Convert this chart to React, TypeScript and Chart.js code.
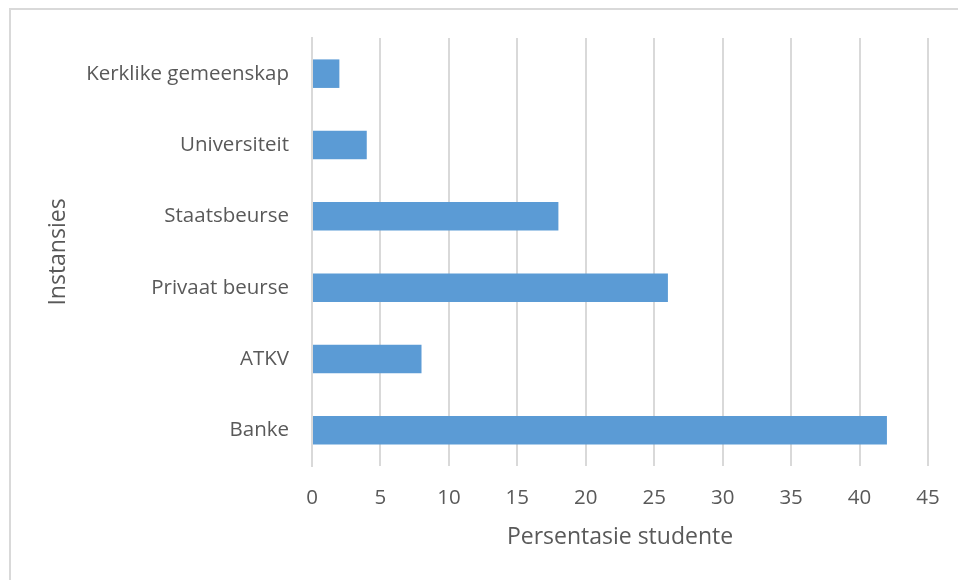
import React, { useEffect, useRef } from "react";
import { Chart, registerables } from "chart.js";

Chart.register(...registerables);

const categories = ["Kerklike gemeenskap", "Universiteit", "Staatsbeurse", "Privaat beurse", "ATKV", "Banke"];
const values = [2, 4, 18, 26, 8, 42];
const xTitle = "Persentasie studente";
const yTitle = "Instansies";

const TEXT = "#595959";
const GRID = "#d9d9d9";
const BAR = "#5b9bd5";
const FONT = "'Open Sans', sans-serif";

export default function App() {
  const ref = useRef<HTMLCanvasElement>(null);

  useEffect(() => {
    if (!ref.current) return;
    const chart = new Chart(ref.current, {
      type: "bar",
      data: {
        labels: categories,
        datasets: [
          {
            data: values,
            backgroundColor: BAR,
            borderWidth: 0,
            categoryPercentage: 1,
            barPercentage: 0.4,
          },
        ],
      },
      options: {
        indexAxis: "y",
        animation: false,
        responsive: false,
        maintainAspectRatio: false,
        layout: { padding: { left: 0, top: 38, right: 0, bottom: 0 } },
        plugins: { legend: { display: false }, tooltip: { enabled: false } },
        scales: {
          x: {
            min: 0,
            max: 45,
            ticks: { stepSize: 5, color: TEXT, font: { family: FONT, size: 20.5 }, padding: 20 },
            grid: { color: GRID, lineWidth: 2, drawTicks: false },
            border: { display: false },
            title: { display: true, text: xTitle, color: TEXT, font: { family: FONT, size: 23 }, padding: { top: 0, bottom: 29 } },
            afterFit: (s: any) => {
              s.height = 114;
              s.paddingLeft = 0;
              s.paddingRight = 30;
            },
          },
          y: {
            ticks: { color: TEXT, font: { family: FONT, size: 20.5 }, padding: 23 },
            grid: { display: false, drawTicks: false },
            border: { display: true, color: GRID, width: 2 },
            title: { display: true, text: yTitle, color: TEXT, font: { family: FONT, size: 23 }, padding: { top: 45, bottom: 0 } },
            afterFit: (s: any) => {
              s.width = 312;
              s.paddingTop = 0;
              s.paddingBottom = 0;
            },
          },
        },
      },
    });
    return () => chart.destroy();
  }, []);

  return (
    <div style={{ position: "absolute", left: 0, top: 0, width: 958, height: 580, overflow: "hidden", background: "#fff" }}>
      <div style={{ position: "absolute", left: 9, top: 8, width: 1000, height: 1000, border: `2px solid ${GRID}`, boxSizing: "border-box" }} />
      <canvas ref={ref} width={958} height={580} style={{ position: "absolute", left: 0, top: 0 }} />
    </div>
  );
}
